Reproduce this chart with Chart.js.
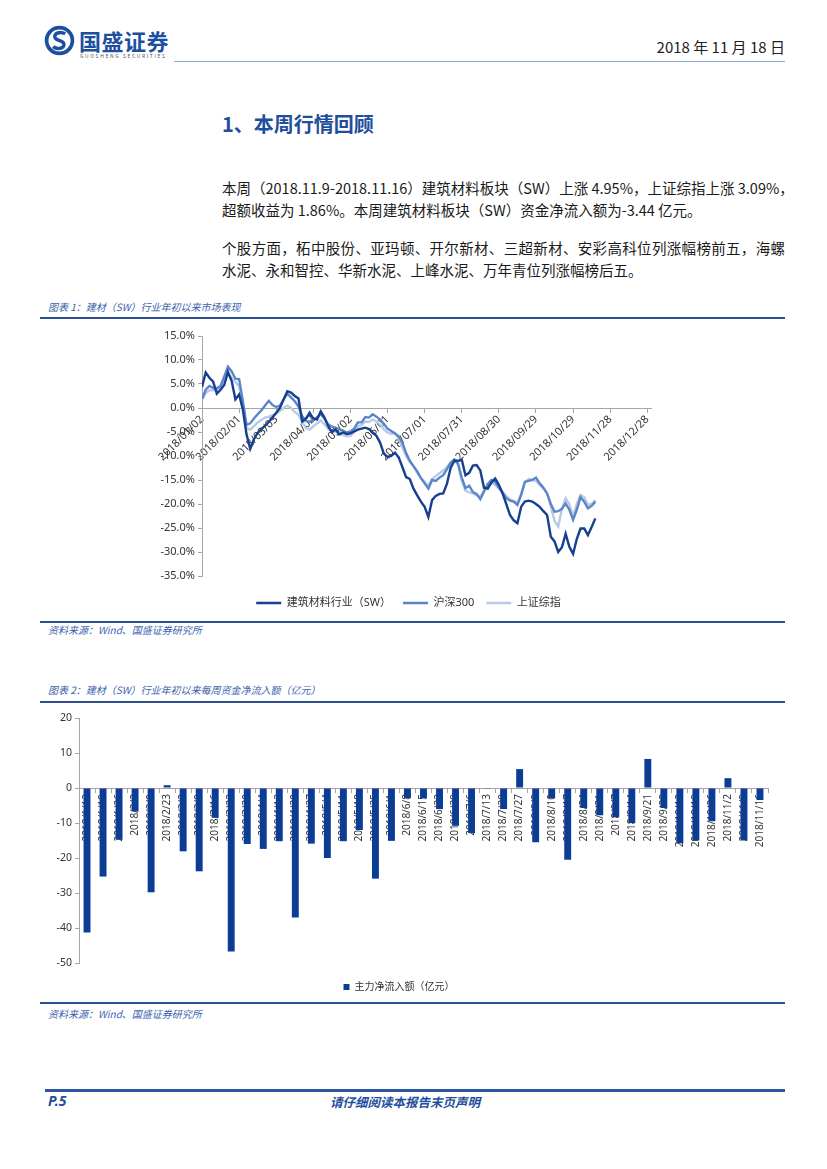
<!DOCTYPE html>
<html><head><meta charset="utf-8">
<script src="https://cdn.jsdelivr.net/npm/chart.js@4.4.1/dist/chart.umd.min.js"></script>
<style>
html,body{margin:0;padding:0;background:#fff;}
body{width:827px;height:1169px;position:relative;overflow:hidden;font-family:"Noto Sans CJK SC","Noto Sans",sans-serif;color:#222;}
.abs{position:absolute;white-space:nowrap;}
.rule{position:absolute;}
.para{position:absolute;left:222px;width:563px;font-size:14.5px;line-height:22px;white-space:nowrap;color:#1a1a1a;}
.just{text-align:justify;text-align-last:justify;}
.cap{position:absolute;left:48px;font-size:10px;line-height:14px;font-style:italic;color:#3a62ad;white-space:nowrap;}
canvas{position:absolute;}
</style></head><body>

<svg class="abs" style="left:44px;top:25px" width="31" height="31" viewBox="0 0 30 30">
<circle cx="15" cy="15" r="12.5" fill="none" stroke="#1d4fa0" stroke-width="3.6"/>
<path d="M20.5 8.5 C15 5.5,8.5 8.5,11 12.8 C13 15.8,19.5 14.8,19.3 19 C19 23,12.5 24,8.8 21" fill="none" stroke="#1d4fa0" stroke-width="3.4"/>
</svg>
<div class="abs" style="left:79px;top:26px;font-size:22px;line-height:28px;font-weight:700;color:#1d4fa0;letter-spacing:0.5px;">国盛证券</div>
<div class="abs" style="left:80px;top:53px;font-size:5px;line-height:6px;color:#555;letter-spacing:1.6px;">GUOSHENG SECURITIES</div>
<div class="abs" style="right:42px;top:37px;font-size:15px;line-height:20px;color:#222;">2018 年 11 月 18 日</div>
<div class="rule" style="left:174px;top:61px;width:611px;height:1px;background:#8eaadb;"></div>

<div class="abs" style="left:222px;top:110px;font-size:20px;line-height:28px;font-weight:700;color:#1e4e9d;">1、本周行情回顾</div>

<div class="para just" style="top:177px;">本周（2018.11.9-2018.11.16）建筑材料板块（SW）上涨 4.95%，上证综指上涨 3.09%，</div>
<div class="para" style="top:199px;">超额收益为 1.86%。本周建筑材料板块（SW）资金净流入额为-3.44 亿元。</div>
<div class="para just" style="top:237px;">个股方面，柘中股份、亚玛顿、开尔新材、三超新材、安彩高科位列涨幅榜前五，海螺</div>
<div class="para" style="top:259px;">水泥、永和智控、华新水泥、上峰水泥、万年青位列涨幅榜后五。</div>

<div class="cap" style="top:300px;">图表 1：建材（SW）行业年初以来市场表现</div>
<div class="rule" style="left:40px;top:317px;width:745px;height:2px;background:#2b4f8f;"></div>
<canvas id="c1" width="560" height="300" style="left:130px;top:320px;width:560px;height:300px;"></canvas>
<div class="rule" style="left:40px;top:621px;width:745px;height:2px;background:#2b4f8f;"></div>
<div class="cap" style="top:623px;">资料来源：Wind、国盛证券研究所</div>

<div class="cap" style="top:683px;">图表 2：建材（SW）行业年初以来每周资金净流入额（亿元）</div>
<div class="rule" style="left:40px;top:701px;width:745px;height:2px;background:#2b4f8f;"></div>
<canvas id="c2" width="760" height="300" style="left:30px;top:705px;width:760px;height:300px;"></canvas>
<div class="rule" style="left:40px;top:1002px;width:745px;height:2px;background:#2b4f8f;"></div>
<div class="cap" style="top:1007px;">资料来源：Wind、国盛证券研究所</div>

<div class="rule" style="left:45px;top:1089px;width:740px;height:3px;background:#2b57a0;"></div>
<div class="abs" style="left:48px;top:1092px;font-size:14px;line-height:18px;font-weight:700;font-style:italic;color:#1e4e9d;font-family:'Noto Sans','Liberation Sans',sans-serif;">P.5</div>
<div class="abs" style="left:330px;top:1093px;font-size:12.5px;line-height:17px;font-weight:700;font-style:italic;color:#1e4e9d;">请仔细阅读本报告末页声明</div>

<script>
// ---------- Chart 1 data (day offsets from 2018/01/02, cumulative return %) ----------
const dayOffsets = [0,3,6,9,12,15,18,21,24,27,
30,33,36,39,42,45,48,51,54,57,
60,63,66,69,72,75,78,81,84,87,
90,93,96,99,102,105,108,111,114,117,
120,123,126,129,132,135,138,141,144,147,
150,153,156,159,162,165,168,171,174,177,
180,183,186,189,192,195,198,201,204,207,
210,213,216,219,222,225,228,231,234,237,
240,243,246,249,252,255,258,261,264,267,
270,273,276,279,282,285,288,291,294,297,
300,303,306,309,312,315,318];
const swReturn = [4.4,7.4,6.3,5.5,3.0,3.8,4.8,7.5,5.6,1.8,
2.8,-0.3,-5.5,-8.5,-6.5,-5.2,-4.4,-3.7,-2.9,-2.0,
-1.0,0.0,1.8,3.5,3.2,2.5,2.0,-2.8,-2.2,-1.0,
-2.2,-2.4,-0.7,-2.0,-3.8,-5.0,-4.5,-5.5,-5.1,-5.4,
-5.3,-4.9,-4.5,-4.3,-4.1,-4.4,-5.1,-5.8,-7.2,-9.5,
-10.2,-10.0,-9.3,-10.3,-12.3,-14.4,-14.8,-16.8,-18.2,-19.5,
-20.6,-22.7,-19.2,-18.3,-17.9,-17.8,-15.8,-12.5,-11.0,-11.0,
-10.8,-14.0,-13.5,-12.0,-11.9,-13.0,-16.6,-16.8,-15.5,-14.7,
-16.0,-17.8,-20.0,-22.3,-23.4,-24.0,-20.6,-19.5,-19.3,-19.5,
-20.0,-20.6,-21.5,-22.3,-26.8,-27.8,-30.0,-29.0,-26.2,-28.9,
-30.4,-27.3,-25.1,-25.1,-26.5,-24.8,-23.0];
const hs300Return = [1.9,3.8,4.6,4.2,4.1,4.6,6.6,8.6,7.6,6.1,
6.0,1.5,-3.5,-3.2,-2.2,-1.3,-0.5,0.5,1.5,0.6,
0.2,0.5,1.8,3.0,2.2,1.4,0.3,-1.7,-2.7,-2.9,
-2.5,-1.9,-1.3,-2.2,-3.4,-3.9,-4.1,-4.4,-4.7,-5.1,
-4.9,-4.3,-3.0,-3.0,-1.9,-2.0,-1.3,-1.8,-2.4,-3.3,
-4.3,-4.8,-5.3,-5.9,-7.2,-9.4,-11.0,-12.1,-13.2,-14.6,
-15.7,-16.8,-15.0,-15.2,-14.5,-14.0,-12.8,-11.4,-10.7,-11.6,
-14.5,-16.7,-16.2,-17.5,-17.9,-19.0,-17.4,-15.8,-15.0,-15.4,
-16.5,-17.6,-18.8,-19.3,-19.5,-20.2,-18.1,-15.4,-15.2,-15.0,
-14.5,-15.7,-16.6,-17.8,-20.0,-21.6,-21.5,-21.0,-19.9,-21.2,
-23.3,-21.2,-18.6,-19.5,-20.9,-20.4,-19.5];
const shCompReturn = [1.6,3.1,3.7,3.7,3.8,4.1,5.8,7.2,6.3,5.4,
4.5,0.5,-4.2,-4.5,-3.8,-3.0,-2.5,-2.0,-1.8,-1.5,
-1.2,-0.6,0.0,0.5,0.0,-0.8,-1.4,-2.8,-4.2,-4.5,
-3.8,-3.2,-2.6,-3.4,-4.4,-4.8,-5.0,-5.3,-5.6,-5.9,
-5.8,-5.0,-3.8,-3.6,-2.8,-2.9,-2.4,-2.8,-3.4,-4.4,
-5.1,-5.4,-5.2,-6.4,-8.2,-10.0,-11.2,-12.2,-13.5,-14.6,
-15.4,-16.2,-14.8,-14.2,-13.6,-13.0,-12.3,-11.4,-10.9,-11.8,
-15.2,-17.2,-17.6,-17.8,-18.2,-18.5,-17.3,-16.2,-15.6,-16.0,
-16.8,-17.5,-18.4,-19.0,-19.4,-19.8,-18.0,-15.5,-14.8,-15.0,
-15.2,-16.0,-16.8,-17.8,-20.5,-23.5,-24.7,-21.0,-18.8,-20.0,
-22.6,-20.0,-18.1,-18.6,-20.2,-20.0,-19.2];
const seriesNames = ['建筑材料行业（SW）','沪深300','上证综指'];
const xTickDays = [0,30,60,90,120,150,180,210,240,270,300,330,360];
const xTickLabels = ['2018/01/02','2018/02/01','2018/03/03','2018/04/02','2018/05/02','2018/06/01','2018/07/01','2018/07/31','2018/08/30','2018/09/29','2018/10/29','2018/11/28','2018/12/28'];

// ---------- Chart 2 data (weekly net inflow, 100M CNY) ----------
const weekLabels = ['2018/1/12','2018/1/19','2018/1/26','2018/2/2','2018/2/9','2018/2/23','2018/3/2','2018/3/9','2018/3/16','2018/3/23','2018/3/30','2018/4/4','2018/4/13','2018/4/20','2018/4/27','2018/5/4','2018/5/11','2018/5/18','2018/5/25','2018/6/1','2018/6/8','2018/6/15','2018/6/22','2018/6/29','2018/7/6','2018/7/13','2018/7/20','2018/7/27','2018/8/3','2018/8/10','2018/8/17','2018/8/24','2018/8/31','2018/9/7','2018/9/14','2018/9/21','2018/9/28','2018/10/12','2018/10/19','2018/10/26','2018/11/2','2018/11/9','2018/11/16'];
const netInflow = [-41.3,-25.3,-14.8,-6.7,-29.8,0.8,-18.1,-23.8,-8.5,-46.7,
-16.0,-17.4,-15.2,-37.0,-15.9,-20.0,-15.2,-12.0,-25.9,-15.1,
-2.9,-3.0,-6.0,-10.8,-12.9,-0.2,-6.0,5.4,-15.5,-2.9,
-20.5,-5.7,-7.8,-8.3,-10.0,8.3,-5.7,-15.8,-15.0,-9.5,
2.8,-15.0,-3.44];
const inflowName = '主力净流入额（亿元）';

Chart.defaults.font.family = '"Noto Sans","Noto Sans CJK SC",sans-serif';
Chart.defaults.color = '#333';

const legendShift = {
  id: 'legendShift',
  beforeInit(chart, args, opts) {
    const lg = chart.legend; if (!lg) return;
    const fit = lg.fit;
    lg.fit = function () { fit.call(this); if (opts.h) this.height = opts.h; };
  },
  afterLayout(chart, args, opts) {
    const lg = chart.legend; if (!lg) return;
    const dy = opts.dy || 0, dx = opts.dx || 0;
    lg.top += dy; lg.bottom += dy; lg.left += dx; lg.right += dx;
  }
};

const axisGray = '#a6a6a6';
const colors = ['#173f8f', '#5a86c9', '#b7cae7'];

new Chart(document.getElementById('c1'), {
  type: 'line',
  data: {
    datasets: [swReturn, hs300Return, shCompReturn].map((vals, k) => ({
      label: seriesNames[k],
      data: vals.map((v, i) => ({ x: dayOffsets[i], y: v })),
      borderColor: colors[k], backgroundColor: colors[k],
      borderWidth: 2.4, pointRadius: 0, tension: 0, fill: false
    }))
  },
  options: {
    responsive: false, animation: false, devicePixelRatio: 1,
    layout: { padding: { top: 16, right: 39, left: 0, bottom: 0 } },
    scales: {
      x: {
        type: 'linear', min: 0, max: 363, position: { y: 0 },
        afterBuildTicks(s) { s.ticks = xTickDays.map(v => ({ value: v })); },
        ticks: { autoSkip: false, minRotation: 45, maxRotation: 45, padding: 1,
          font: { size: 11 }, color: '#333', callback: (v, i) => xTickLabels[i] },
        grid: { drawOnChartArea: false, drawTicks: true, tickLength: 4, color: axisGray },
        border: { color: axisGray, width: 1 }
      },
      y: {
        min: -35, max: 15,
        afterFit(s) { s.width = 72; },
        ticks: { stepSize: 5, padding: 3, font: { size: 11 }, color: '#333',
          callback: v => v.toFixed(1) + '%' },
        grid: { drawOnChartArea: false, drawTicks: true, tickLength: 4, color: axisGray },
        border: { color: axisGray, width: 1 }
      }
    },
    plugins: {
      legend: { position: 'bottom',
        labels: { usePointStyle: true, pointStyle: 'line', pointStyleWidth: 25,
          font: { size: 11 }, color: '#333', padding: 12 } },
      tooltip: { enabled: false },
      legendShift: { h: 44, dy: 9.5, dx: 18 }
    }
  },
  plugins: [legendShift]
});

new Chart(document.getElementById('c2'), {
  type: 'bar',
  data: {
    labels: weekLabels,
    datasets: [{ label: inflowName, data: netInflow, backgroundColor: '#0b3d94',
      borderWidth: 0, barPercentage: 0.9, categoryPercentage: 0.48 }]
  },
  options: {
    responsive: false, animation: false, devicePixelRatio: 1,
    layout: { padding: { top: 13, right: 22, left: 0, bottom: 0 } },
    scales: {
      x: {
        position: { y: 0 },
        ticks: { autoSkip: false, minRotation: 90, maxRotation: 90, padding: 2,
          font: { size: 10 }, color: '#333' },
        grid: { drawOnChartArea: false, drawTicks: true, tickLength: 4, color: axisGray, offset: true },
        border: { color: axisGray, width: 1 }
      },
      y: {
        min: -50, max: 20,
        afterFit(s) { s.width = 49; },
        ticks: { stepSize: 10, padding: 3, font: { size: 10.5 }, color: '#333' },
        grid: { drawOnChartArea: false, drawTicks: true, tickLength: 4, color: axisGray },
        border: { color: axisGray, width: 1 }
      }
    },
    plugins: {
      legend: { position: 'bottom',
        labels: { boxWidth: 6, boxHeight: 6, font: { size: 10 }, color: '#333', padding: 10 } },
      tooltip: { enabled: false },
      legendShift: { h: 42, dy: 9, dx: 0 }
    }
  },
  plugins: [legendShift]
});
</script>
</body></html>
